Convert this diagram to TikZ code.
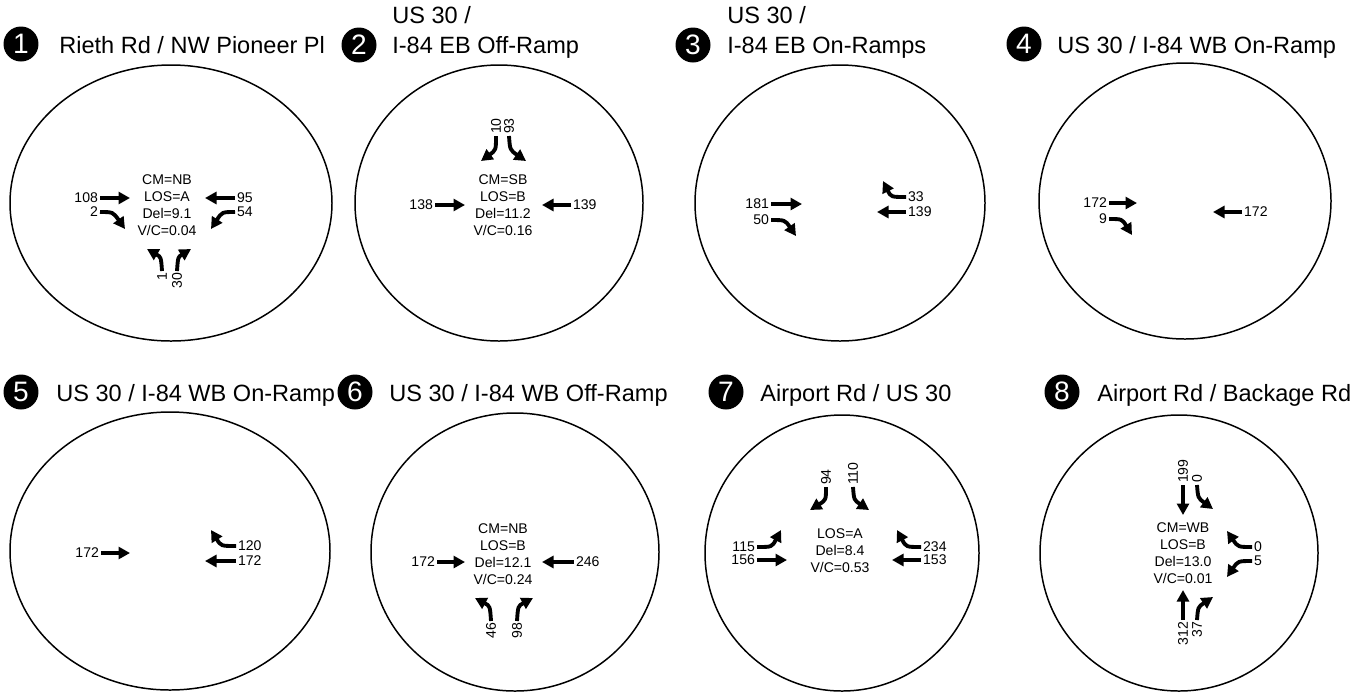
\documentclass[tikz,border=0pt]{standalone}
\usepackage{fontspec}
\setmainfont{Liberation Sans}
\usetikzlibrary{arrows.meta}
\tikzset{
  ring/.style={draw, line width=0.85pt},
  badge/.style={circle, fill=black, text=white, minimum size=0.7cm, inner sep=0pt, font=\fontsize{16}{16}\selectfont},
  title/.style={anchor=base west, inner sep=0pt, font=\fontsize{13.4}{17}\selectfont},
  info/.style={align=center, inner sep=0pt, font=\fontsize{8}{9.6}\selectfont},
  vol/.style={inner sep=1pt, font=\fontsize{8}{9.6}\selectfont},
  volup/.style={vol, rotate=90},
  mov/.style={-{Triangle[length=2.3mm, width=2.4mm]}, line width=2.2pt},
}
\begin{document}
\begin{tikzpicture}[x=0.02cm, y=-0.02cm]
  \useasboundingbox (0,0) rectangle (1369,691);
  % 1: Rieth Rd / NW Pioneer Pl
  \coordinate (c1) at (171,203);
  \draw[ring] (c1) ellipse [x radius=161, y radius=138];
  \node[badge] (b1) at (21,44) {1};
  \node[title] (t1) at (59,53) {Rieth Rd / NW Pioneer Pl};
  \node[info] (i1) at (167,205) {CM=NB\\LOS=A\\Del=9.1\\V/C=0.04};
  \node[vol, anchor=east] (v1a) at (100,198) {108};
  \node[vol, anchor=east] (v1b) at (100,212) {2};
  \node[vol, anchor=west] (v1c) at (235,198) {95};
  \node[vol, anchor=west] (v1d) at (235,212) {54};
  \node[volup, anchor=east] (v1e) at (162,271) {1};
  \node[volup, anchor=east] (v1f) at (177,271) {30};
  \draw[mov] (v1a.east) -- (130,198);
  \draw[mov] (v1b.east) .. controls (113,212) .. (125,229);
  \draw[mov] (v1c.west) -- (205,198);
  \draw[mov] (v1d.west) .. controls (222,212) .. (211,229);
  \draw[mov] (v1e.east) .. controls (161,257) .. (147,249);
  \draw[mov] (v1f.east) .. controls (178,257) .. (191,249);

  % 2: US 30 / I-84 EB Off-Ramp
  \coordinate (c2) at (499,203);
  \draw[ring] (c2) ellipse [x radius=144, y radius=138];
  \node[badge] (b2) at (359,45) {2};
  \node[title] (t2) at (392,23) {US 30 /};
  \node[title] (t2b) at (392,53) {I-84 EB Off-Ramp};
  \node[info] (i2) at (503,205) {CM=SB\\LOS=B\\Del=11.2\\V/C=0.16};
  \node[volup, anchor=west] (v2a) at (496,136) {10};
  \node[volup, anchor=west] (v2b) at (509,136) {93};
  \node[vol, anchor=east] (v2c) at (435,205) {138};
  \node[vol, anchor=west] (v2d) at (571,205) {139};
  \draw[mov] (v2a.west) .. controls (496,150) .. (481,161);
  \draw[mov] (v2b.west) .. controls (510,150) .. (526,161);
  \draw[mov] (v2c.east) -- (465,205);
  \draw[mov] (v2d.west) -- (542,205);

  % 3: US 30 / I-84 EB On-Ramps
  \coordinate (c3) at (840,203);
  \draw[ring] (c3) ellipse [x radius=145, y radius=138];
  \node[badge] (b3) at (693,45) {3};
  \node[title] (t3) at (727,23) {US 30 /};
  \node[title] (t3b) at (727,53) {I-84 EB On-Ramps};
  \node[vol, anchor=east] (v3a) at (771,204) {181};
  \node[vol, anchor=east] (v3b) at (771,220) {50};
  \node[vol, anchor=west] (v3c) at (906,197) {33};
  \node[vol, anchor=west] (v3d) at (906,212) {139};
  \draw[mov] (v3a.east) -- (802,204);
  \draw[mov] (v3b.east) .. controls (785,220) .. (796,236);
  \draw[mov] (v3c.west) .. controls (891,197) .. (883,181);
  \draw[mov] (v3d.west) -- (877,212);

  % 4: US 30 / I-84 WB On-Ramp
  \coordinate (c4) at (1185,201);
  \draw[ring] (c4) ellipse [x radius=146, y radius=138];
  \node[badge] (b4) at (1024,44) {4};
  \node[title] (t4) at (1057,53) {US 30 / I-84 WB On-Ramp};
  \node[vol, anchor=east] (v4a) at (1109,203) {172};
  \node[vol, anchor=east] (v4b) at (1109,219) {9};
  \node[vol, anchor=west] (v4c) at (1242,212) {172};
  \draw[mov] (v4a.east) -- (1137,203);
  \draw[mov] (v4b.east) .. controls (1122,219) .. (1132,235);
  \draw[mov] (v4c.west) -- (1213,212);

  % 5: US 30 / I-84 WB On-Ramp
  \coordinate (c5) at (170,551);
  \draw[ring] (c5) ellipse [x radius=160, y radius=139];
  \node[badge] (b5) at (21,392) {5};
  \node[title] (t5) at (56,401) {US 30 / I-84 WB On-Ramp};
  \node[vol, anchor=east] (v5a) at (101,553) {172};
  \node[vol, anchor=west] (v5b) at (236,546) {120};
  \node[vol, anchor=west] (v5c) at (236,561) {172};
  \draw[mov] (v5a.east) -- (130,553);
  \draw[mov] (v5b.west) .. controls (221,546) .. (211,530);
  \draw[mov] (v5c.west) -- (205,561);

  % 6: US 30 / I-84 WB Off-Ramp
  \coordinate (c6) at (515,552);
  \draw[ring] (c6) ellipse [x radius=144, y radius=139];
  \node[badge] (b6) at (355,392) {6};
  \node[title] (t6) at (389,401) {US 30 / I-84 WB Off-Ramp};
  \node[info] (i6) at (503,554) {CM=NB\\LOS=B\\Del=12.1\\V/C=0.24};
  \node[vol, anchor=east] (v6a) at (437,562) {172};
  \node[vol, anchor=west] (v6b) at (574,562) {246};
  \node[volup, anchor=east] (v6c) at (491,621) {46};
  \node[volup, anchor=east] (v6d) at (517,621) {98};
  \draw[mov] (v6a.east) -- (465,562);
  \draw[mov] (v6b.west) -- (542,562);
  \draw[mov] (v6c.east) .. controls (490,606) .. (475,598);
  \draw[mov] (v6d.east) .. controls (518,606) .. (533,598);

  % 7: Airport Rd / US 30
  \coordinate (c7) at (842,553);
  \draw[ring] (c7) ellipse [x radius=137, y radius=138];
  \node[badge] (b7) at (726,392) {7};
  \node[title] (t7) at (760,401) {Airport Rd / US 30};
  \node[info] (i7) at (840,551) {LOS=A\\Del=8.4\\V/C=0.53};
  \node[volup, anchor=west] (v7a) at (826,487) {94};
  \node[volup, anchor=west] (v7b) at (853,487) {110};
  \node[vol, anchor=east] (v7c) at (757,547) {115};
  \node[vol, anchor=east] (v7d) at (757,560) {156};
  \node[vol, anchor=west] (v7e) at (921,547) {234};
  \node[vol, anchor=west] (v7f) at (921,560) {153};
  \draw[mov] (v7a.west) .. controls (826,500) .. (810,510);
  \draw[mov] (v7b.west) .. controls (854,500) .. (869,510);
  \draw[mov] (v7c.east) .. controls (772,547) .. (781,530);
  \draw[mov] (v7d.east) -- (787,560);
  \draw[mov] (v7e.west) .. controls (906,547) .. (897,530);
  \draw[mov] (v7f.west) -- (892,560);

  % 8: Airport Rd / Backage Rd
  \coordinate (c8) at (1179,553);
  \draw[ring] (c8) ellipse [x radius=139, y radius=138];
  \node[badge] (b8) at (1062,392) {8};
  \node[title] (t8) at (1097,401) {Airport Rd / Backage Rd};
  \node[info] (i8) at (1183,553) {CM=WB\\LOS=B\\Del=13.0\\V/C=0.01};
  \node[volup, anchor=west] (v8a) at (1183,485) {199};
  \node[volup, anchor=west] (v8b) at (1197,485) {0};
  \node[vol, anchor=west] (v8c) at (1252,547) {0};
  \node[vol, anchor=west] (v8d) at (1252,561) {5};
  \node[volup, anchor=east] (v8e) at (1183,620) {312};
  \node[volup, anchor=east] (v8f) at (1197,620) {37};
  \draw[mov] (v8a.west) -- (1183,515);
  \draw[mov] (v8b.west) .. controls (1198,498) .. (1213,509);
  \draw[mov] (v8c.west) .. controls (1238,547) .. (1227,531);
  \draw[mov] (v8d.west) .. controls (1238,561) .. (1227,577);
  \draw[mov] (v8e.east) -- (1183,590);
  \draw[mov] (v8f.east) .. controls (1198,607) .. (1213,597);
\end{tikzpicture}
\end{document}
